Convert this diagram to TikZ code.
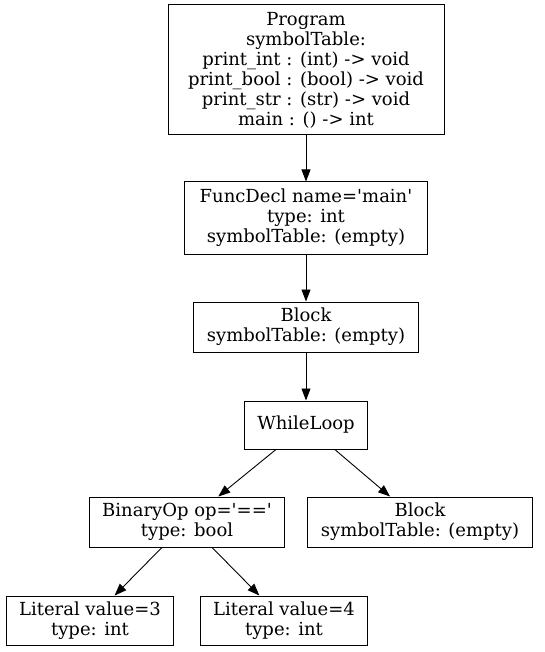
\documentclass[tikz,border=0pt]{standalone}
\usepackage{fontspec}
\setmainfont{DejaVu Serif}
\usetikzlibrary{arrows.meta,positioning}
\newcommand{\q}{\textquotesingle}

\begin{document}
\begin{tikzpicture}[x=1pt,y=-1pt,node distance=47pt,
 font=\fontsize{18}{20}\selectfont,>={Triangle[length=12pt,width=9pt]},
 box/.style={draw,line width=1pt,rectangle,align=center,inner xsep=13pt,inner ysep=5pt,minimum height=50pt},
 arr/.style={->,line width=0.9pt}]
\useasboundingbox (0,0) rectangle (544,652);
\node[box,minimum width=276pt,minimum height=130pt] (program) at (306,70) {Program\\symbolTable:\\print\_int : (int) -> void\\print\_bool : (bool) -> void\\print\_str : (str) -> void\\main : () -> int};
\node[box,minimum width=243pt,minimum height=72pt,below=46pt of program] (funcdecl) {FuncDecl name=\q main\q\\type: int\\symbolTable: (empty)};
\node[box,below=of funcdecl] (block) {Block\\symbolTable: (empty)};
\node[box,minimum height=48pt,below=48pt of block] (whileloop) {WhileLoop};
\node[box,below=of whileloop,xshift=-119pt] (binop) {BinaryOp op=\q==\q\\type: bool};
\node[box,below=of whileloop,xshift=114pt] (body) {Block\\symbolTable: (empty)};
\node[box,minimum height=49pt,below=48pt of binop,xshift=-97pt] (lit3) {Literal value=3\\type: int};
\node[box,minimum height=49pt,below=48pt of binop,xshift=97pt] (lit4) {Literal value=4\\type: int};
\draw[arr] (program)--(funcdecl); \draw[arr] (funcdecl)--(block);
\draw[arr] (block)--(whileloop);
\draw[arr] (whileloop)--(binop); \draw[arr] (whileloop)--(body);
\draw[arr] (binop)--(lit3); \draw[arr] (binop)--(lit4);
\end{tikzpicture}
\end{document}
